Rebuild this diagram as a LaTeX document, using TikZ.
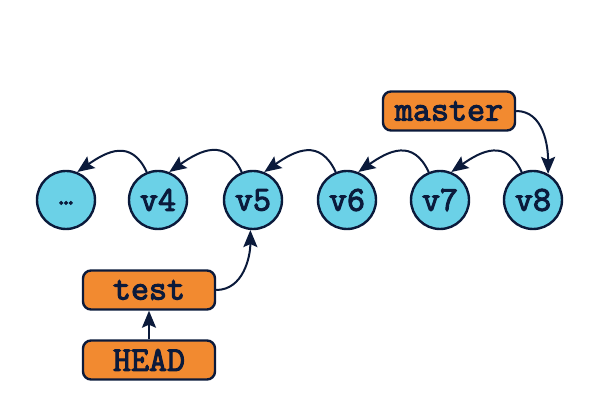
\documentclass[tikz,border=0pt]{standalone}
\usepackage{fontspec}
\setmonofont{Latin Modern Mono}[BoldFont={Latin Modern Mono}, BoldFeatures={FakeBold=3}]
\usetikzlibrary{arrows.meta}
\definecolor{navy}{HTML}{0B1A3B}
\definecolor{commitblue}{HTML}{6BD1E7}
\definecolor{reforange}{HTML}{F28A30}
\begin{document}
\begin{tikzpicture}[x=0.5pt,y=-0.5pt,
  lbl/.style={font=\ttfamily\bfseries\fontsize{17.5}{17.5}\selectfont, text=navy},
  commit/.style={lbl, circle, draw=navy, fill=commitblue, line width=1.2pt, minimum size=29pt, inner sep=0pt},
  ref/.style={lbl, rectangle, rounded corners=4pt, draw=navy, fill=reforange, line width=1.2pt, minimum width=66pt, minimum height=19.5pt, inner sep=0pt},
  link/.style={draw=navy, line width=1pt, -{Stealth[length=8.5pt,width=7pt,inset=1.5pt]}}]
\useasboundingbox (0,0) rectangle (600,400);
\node[commit] (dots) at (66,200) {\raisebox{-4.5pt}{\fontsize{14}{14}\selectfont\ldots}};
\node[commit] (v4) at (158,200) {v4};
\node[commit] (v5) at (253,200) {v5};
\node[commit] (v6) at (347,200) {v6};
\node[commit] (v7) at (440,200) {v7};
\node[commit] (v8) at (533,200) {v8};
\node[ref] (master) at (449,111) {master};
\node[ref] (test) at (149,290) {test};
\node[ref] (head) at (149,360) {HEAD};
\foreach \a/\b in {v4/dots, v5/v4, v6/v5, v7/v6, v8/v7}
  \draw[link] (\a.112) to[out=115,in=35,looseness=1.35] (\b.68);
\draw[link] (master.east) to[out=0,in=90] (v8.60);
\draw[link] (test.east) to[out=0,in=-90] (v5.-95);
\draw[link] (head.north) -- (test.south);
\end{tikzpicture}
\end{document}
